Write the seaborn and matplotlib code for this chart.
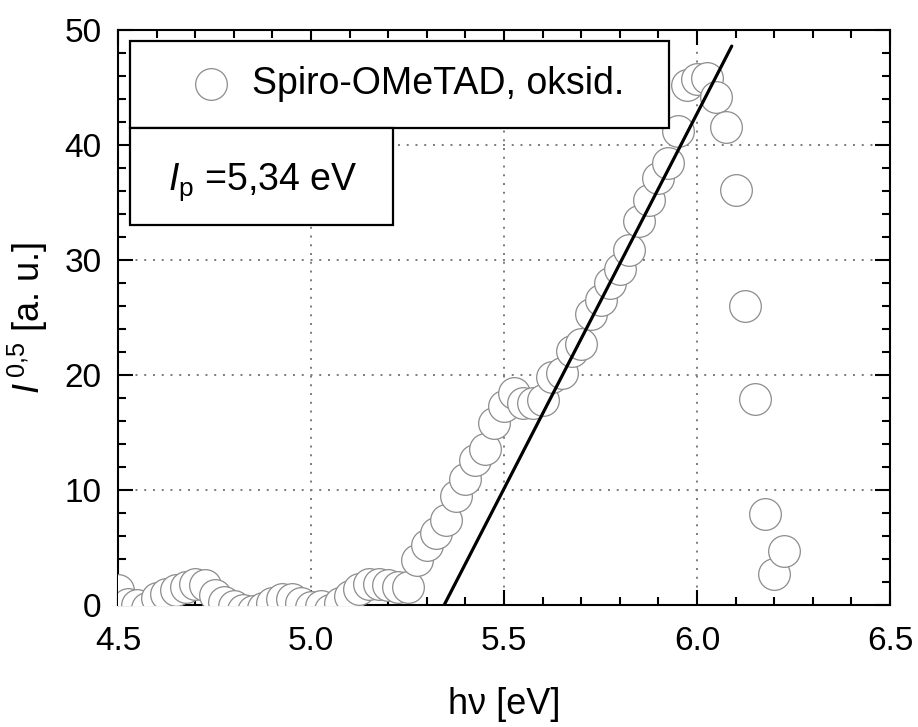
import numpy as np
import pandas as pd
import matplotlib
matplotlib.use("Agg")
import matplotlib.pyplot as plt
import seaborn as sns
from matplotlib.patches import Rectangle
from matplotlib.ticker import MultipleLocator

# ---- data ----
energy = [4.500, 4.525, 4.550, 4.575, 4.600, 4.625, 4.650, 4.675, 4.700, 4.725,
          4.750, 4.775, 4.800, 4.825, 4.850, 4.875, 4.900, 4.925, 4.950, 4.975,
          5.000, 5.025, 5.050, 5.075, 5.100, 5.125, 5.150, 5.175, 5.200, 5.225,
          5.250, 5.275, 5.300, 5.325, 5.350, 5.375, 5.400, 5.425, 5.450, 5.475,
          5.500, 5.525, 5.550, 5.575, 5.600, 5.625, 5.650, 5.675, 5.700, 5.725,
          5.750, 5.775, 5.800, 5.825, 5.850, 5.875, 5.900, 5.925, 5.950, 5.975,
          6.000, 6.025, 6.050, 6.075, 6.100, 6.125, 6.150, 6.175, 6.200, 6.225]
intensity = [1.3, 0.1, 0.0, -0.3, 0.6, 1.0, 1.3, 1.6, 1.8, 1.7,
             0.9, 0.3, -0.1, -0.4, -0.5, -0.3, 0.2, 0.5, 0.5, 0.2,
             -0.2, -0.1, -0.4, 0.2, 0.8, 1.4, 1.8, 1.8, 1.7, 1.6,
             1.6, 3.9, 5.2, 6.3, 7.4, 9.5, 11.0, 12.6, 13.6, 15.8,
             17.3, 18.4, 17.6, 17.6, 17.8, 19.8, 20.2, 22.1, 22.7, 25.3,
             26.5, 28.0, 29.2, 30.9, 33.4, 35.2, 37.1, 38.4, 41.2, 45.2,
             45.7, 45.8, 44.2, 41.6, 36.1, 26.0, 17.9, 7.9, 2.7, 4.7]
fit_x = [5.345, 6.09]
fit_y = [0.0, 48.6]
series_label = "Spiro-OMeTAD, oksid."
ip_label = r"$\mathit{I}_{\mathrm{p}}$ =5,34 eV"
x_ticks = [4.5, 5.0, 5.5, 6.0, 6.5]
y_ticks = [0, 10, 20, 30, 40, 50]

df = pd.DataFrame({"E": energy, "I": intensity})

sns.set_theme(style="ticks")
plt.rcParams["font.family"] = ["Liberation Sans", "DejaVu Sans"]
plt.rcParams["mathtext.fontset"] = "custom"
plt.rcParams["mathtext.rm"] = "Liberation Sans"
plt.rcParams["mathtext.it"] = "Liberation Sans:italic"
plt.rcParams["mathtext.bf"] = "Liberation Sans:bold"
for k in ["text.color", "axes.labelcolor", "xtick.color", "ytick.color",
          "xtick.labelcolor", "ytick.labelcolor", "axes.edgecolor"]:
    plt.rcParams[k] = "black"

W, H = 918, 727
fig = plt.figure(figsize=(W / 100, H / 100), dpi=100)
L, R, T, B = 118, 890, 30, 605
ax = fig.add_axes([L / W, 1 - B / H, (R - L) / W, (B - T) / H])

FS = 24

sns.scatterplot(data=df, x="E", y="I", ax=ax, s=520, marker="o",
                facecolor="white", edgecolor="#8c8c8c", linewidth=0.9,
                zorder=3, label=series_label, legend=False)
sns.lineplot(x=fit_x, y=fit_y, ax=ax, color="black", linewidth=2.3,
             zorder=4, legend=False)

ax.set_xlim(4.5, 6.5)
ax.set_ylim(0, 50)
ax.set_xticks(x_ticks)
ax.set_xticklabels([f"{v:.1f}" for v in x_ticks])
ax.set_yticks(y_ticks)
ax.set_yticklabels([str(v) for v in y_ticks])
ax.xaxis.set_minor_locator(MultipleLocator(0.1))
ax.yaxis.set_minor_locator(MultipleLocator(2))
ax.tick_params(which="both", direction="in", top=True, right=True,
               color="black", labelcolor="black", labelsize=FS)
ax.tick_params(which="major", length=11, width=1.5)
ax.tick_params(axis="x", which="major", pad=15)
ax.tick_params(axis="y", which="major", pad=12)
ax.tick_params(which="minor", length=6, width=1.5)
ax.grid(True, which="major", linestyle=(0, (1, 3.5)), color="#7a7a7a",
        linewidth=1.4)
ax.set_axisbelow(True)
for s in ax.spines.values():
    s.set_visible(True)
    s.set_linewidth(1.5)
    s.set_color("black")

ax.set_xlabel("h\u03bd [eV]", fontsize=FS + 2, labelpad=22)
ax.set_ylabel(r"$\mathit{I}^{\,\mathrm{0{,}5}}$ [a. u.]", fontsize=FS + 2,
              labelpad=10)

# legend boxes
def px_rect(x0, y0, x1, y1):
    return Rectangle((x0 / W, 1 - y1 / H), (x1 - x0) / W, (y1 - y0) / H,
                     transform=fig.transFigure, facecolor="white",
                     edgecolor="black", linewidth=1.6, zorder=5, clip_on=False)

ax.add_patch(px_rect(130, 41, 669, 128))
ax.add_patch(px_rect(130, 128, 393, 225))

handles, labels = ax.get_legend_handles_labels()
leg = ax.legend(handles[:1], labels[:1], loc="center left",
                bbox_to_anchor=(192 / W, 1 - 84 / H),
                bbox_transform=fig.transFigure, frameon=False,
                fontsize=FS + 3, borderpad=0, handlelength=1.0,
                handletextpad=0.6, borderaxespad=0)
leg.set_zorder(6)

fig.text(168 / W, 1 - 190 / H, ip_label, fontsize=FS + 3, va="baseline",
         ha="left", zorder=7)

fig.savefig("out.png", dpi=100)
